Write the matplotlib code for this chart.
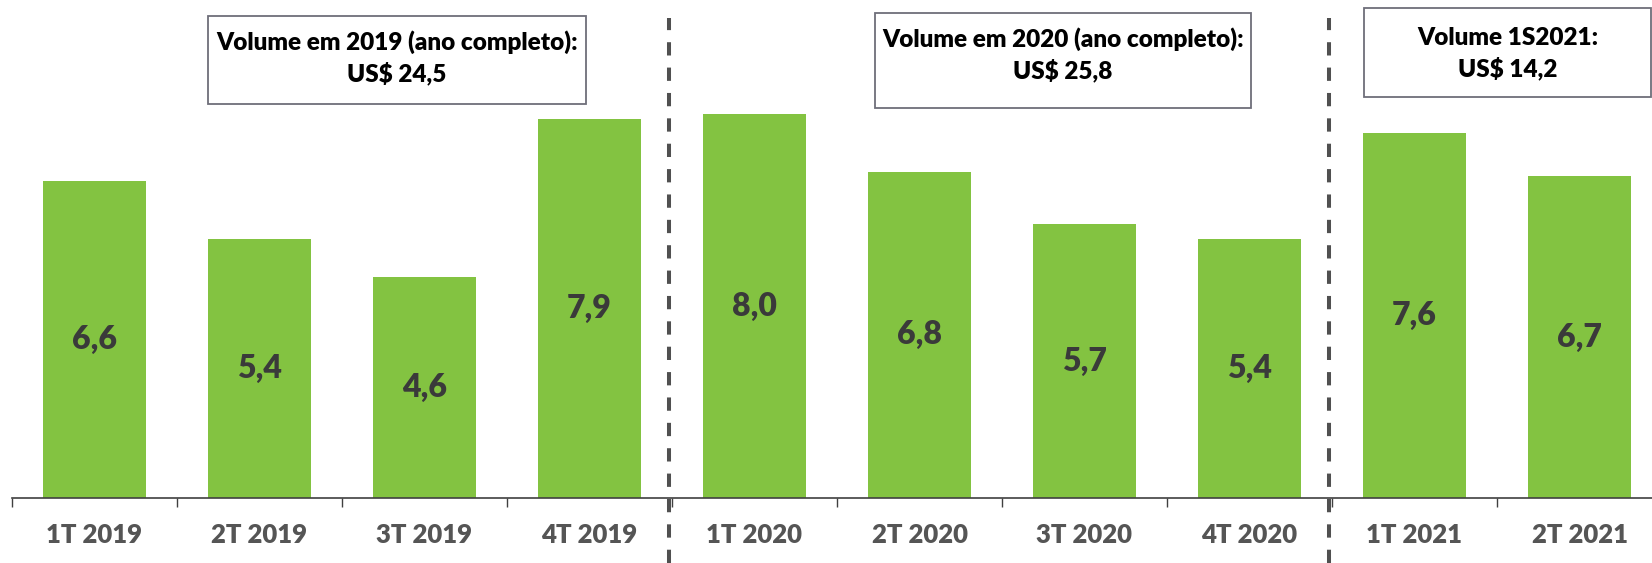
import numpy as np
import matplotlib
matplotlib.use("Agg")
import matplotlib.pyplot as plt
from matplotlib.patches import Rectangle

quarters = ["1T 2019", "2T 2019", "3T 2019", "4T 2019",
            "1T 2020", "2T 2020", "3T 2020", "4T 2020",
            "1T 2021", "2T 2021"]
volumes = [6.6, 5.4, 4.6, 7.9, 8.0, 6.8, 5.7, 5.4, 7.6, 6.7]
box_texts = ["Volume em 2019 (ano completo):\nUS$ 24,5",
             "Volume em 2020 (ano completo):\nUS$ 25,8",
             "Volume 1S2021:\nUS$ 14,2"]

W, H = 1652, 563
GREEN = "#83C341"
plt.rcParams["font.family"] = ["Lato", "DejaVu Sans"]

fig = plt.figure(figsize=(W / 100, H / 100), dpi=100)
ax = fig.add_axes([12 / W, 65 / H, 1650 / W, 498 / H])

x = np.arange(len(quarters))
ax.bar(x, volumes, width=0.63, color=GREEN, zorder=2)
for xi, v in zip(x, volumes):
    ax.text(xi, v / 2, f"{v:.1f}".replace(".", ","), ha="center", va="center",
            fontsize=23, fontweight="heavy", color="#3a3a3a")

ax.set_xlim(-0.5, 9.5)
ax.set_ylim(0, 10.375)
ax.set_yticks([])
for s in ["top", "right", "left"]:
    ax.spines[s].set_visible(False)
ax.spines["bottom"].set_color("#404040")
ax.spines["bottom"].set_linewidth(1.2)

# ticks between categories, labels at centres
ax.set_xticks(np.arange(-0.5, 10, 1))
ax.set_xticklabels([])
ax.tick_params(axis="x", which="major", length=6.5, width=1.0, color="#404040")
ax.set_xticks(x, minor=True)
ax.set_xticklabels(quarters, minor=True, fontsize=18.5, fontweight="heavy", color="#555555")
ax.tick_params(axis="x", which="minor", length=0, pad=18)

# dashed year separators
for xs in [3.48, 7.48]:
    ax.axvline(xs, ymin=-0.13, ymax=0.964, color="#505050", lw=2.9,
               linestyle=(0, (3.3, 3)), clip_on=False, zorder=3)

# annotation boxes (pixel positions)
boxes = [(208, 16, 586, 104), (875, 13, 1251, 108), (1364, 8, 1651, 97)]
centres = [58, 55, 54]
for (x0, y0, x1, y1), cy, t in zip(boxes, centres, box_texts):
    fig.patches.append(Rectangle((x0 / W, 1 - y1 / H), (x1 - x0) / W, (y1 - y0) / H,
                                 transform=fig.transFigure, facecolor="white",
                                 edgecolor="#6e6e7a", lw=1.3))
    fig.text((x0 + x1) / 2 / W, 1 - cy / H, t, ha="center", va="center",
             fontsize=17.5, fontweight="heavy", color="black", linespacing=1.4)

fig.savefig("out.png", dpi=100)
